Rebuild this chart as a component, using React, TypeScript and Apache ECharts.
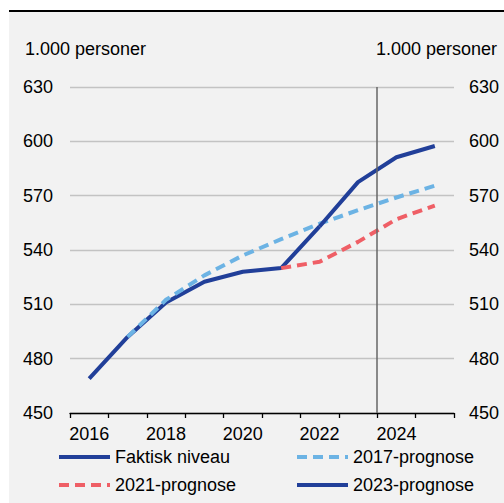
import React, { useEffect, useRef } from "react";
import * as echarts from "echarts";

const years = ["2016", "2017", "2018", "2019", "2020", "2021", "2022", "2023", "2024", "2025"];
const faktisk = [469, 492, 511, 522.5, 528, 530, 553, null, null, null];
const prognose2017 = [null, 492, 512.5, 526, 537, 546, 554.5, 562, 569, 575.5];
const prognose2021 = [null, null, null, null, null, 530, 533.5, 544.5, 557, 564.5];
const prognose2023 = [null, null, null, null, null, null, 553, 577.5, 591.2, 597.4];
const yMin = 450;
const yMax = 630;
const yStep = 30;
const unitLabel = "1.000 personer";
const markerBoundary = 8; // boundary before 2024 (in category-width units)

const DARK = "#213f99";
const LIGHT = "#6cb3e4";
const RED = "#ef5f66";
const FONT = "Liberation Sans, Arial, sans-serif";

export default function App() {
  const ref = useRef<HTMLDivElement>(null);
  useEffect(() => {
    if (!ref.current) return;
    const chart = echarts.init(ref.current, null, { renderer: "svg" });
    const txt = { fontFamily: FONT, fontSize: 18, color: "#000" };
    const legendBase = (name: string, left: number, top: number) => ({
      data: [name],
      left,
      top,
      itemWidth: 51,
      itemHeight: 14,
      itemGap: 0,
      padding: 0,
      textStyle: { ...txt, lineHeight: 20 },
      lineStyle: { width: 4 },
      itemStyle: { opacity: 0 },
    });
    const lineSeries = (name: string, data: (number | null)[], color: string, dashed: boolean) => ({
      name,
      type: "line",
      data,
      symbol: "none",
      showSymbol: false,
      connectNulls: false,
      lineStyle: { color, width: 4, type: dashed ? [10, 6] : "solid", cap: "butt" },
      itemStyle: { color },
    });
    chart.setOption({
      animation: false,
      graphic: [
        { type: "rect", left: 9, top: 12, shape: { width: 495, height: 491 }, style: { fill: "#f2f2f2" }, z: -10 },
        { type: "rect", left: 9, top: 10, shape: { width: 495, height: 2 }, style: { fill: "#000" }, z: -10 },
        { type: "text", left: 25, top: 40, style: { text: unitLabel, font: `18px ${FONT}`, fill: "#000" } },
        { type: "text", right: 7, top: 40, style: { text: unitLabel, font: `18px ${FONT}`, fill: "#000" } },
      ],
      grid: { left: 70, right: 50, top: 87, bottom: 90, containLabel: false },
      xAxis: [
        {
          type: "category",
          data: years,
          boundaryGap: true,
          axisLine: { show: true, lineStyle: { color: "#000", width: 1.3 } },
          axisTick: { show: true, interval: 0, length: 5, lineStyle: { color: "#000", width: 1.3 } },
          axisLabel: { interval: 1, margin: 12, ...txt },
          splitLine: { show: false },
        },
        {
          type: "value",
          min: 0,
          max: years.length,
          show: false,
          splitLine: { show: false },
        },
      ],
      yAxis: [
        {
          type: "value",
          min: yMin,
          max: yMax,
          interval: yStep,
          position: "left",
          axisLine: { show: false },
          axisTick: { show: false },
          axisLabel: { ...txt, align: "left", margin: 47 },
          splitLine: { show: true, lineStyle: { color: "#c3c3c3", width: 1.3 } },
        },
        {
          type: "value",
          min: yMin,
          max: yMax,
          interval: yStep,
          position: "right",
          axisLine: { show: false },
          axisTick: { show: false },
          axisLabel: { ...txt, align: "left", margin: 15 },
          splitLine: { show: false },
        },
      ],
      legend: [
        legendBase("Faktisk niveau", 57, 447),
        legendBase("2017-prognose", 295, 447),
        legendBase("2021-prognose", 57, 475),
        legendBase("2023-prognose", 295, 475),
      ],
      series: [
        {
          type: "line",
          xAxisIndex: 1,
          yAxisIndex: 0,
          data: [],
          silent: true,
          markLine: {
            silent: true,
            symbol: "none",
            label: { show: false },
            lineStyle: { color: "#666", width: 1.5, type: "solid" },
            data: [{ xAxis: markerBoundary }],
          },
        },
        lineSeries("Faktisk niveau", faktisk, DARK, false),
        lineSeries("2017-prognose", prognose2017, LIGHT, true),
        lineSeries("2021-prognose", prognose2021, RED, true),
        lineSeries("2023-prognose", prognose2023, DARK, false),
      ],
    });
    return () => chart.dispose();
  }, []);
  return (
    <div
      ref={ref}
      style={{ position: "fixed", left: 0, top: 0, width: 504, height: 503, background: "#fff" }}
    />
  );
}
